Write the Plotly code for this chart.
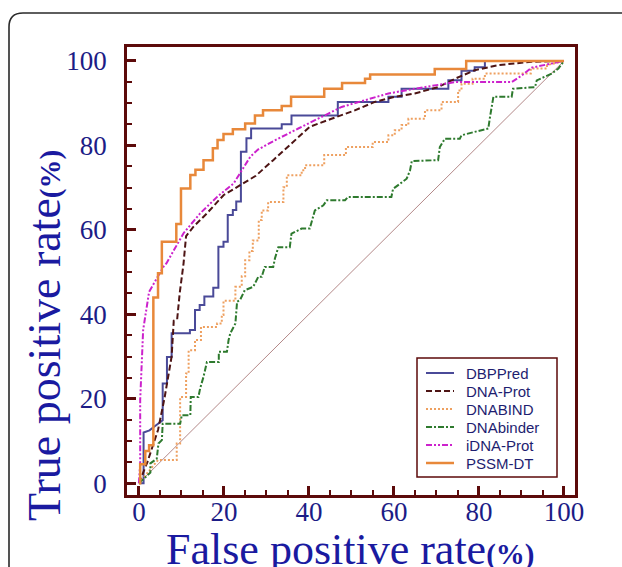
import plotly.graph_objects as go

# ---------------- data (FPR %, TPR %) ----------------
dbppred_fpr = [0, 1.1, 1.1, 2.5, 3.5, 4.5, 5.6, 5.6, 6.6, 6.6, 7.7, 7.7, 12, 12, 13.2, 13.2, 14.3, 14.3,
               15.4, 15.4, 17.5, 17.5, 18.7, 18.7, 19.9, 19.9, 20.9, 20.9, 22.1, 22.1, 22.9, 22.9, 24, 24,
               25.3, 25.3, 26.4, 26.4, 33.6, 33.6, 35.9, 35.9, 46.8, 46.8, 58.7, 58.7, 61.8, 61.8, 72.8,
               72.8, 75.9, 75.9, 79, 79, 81.4, 81.4, 100]
dbppred_tpr = [0, 0, 12, 12.5, 13.3, 14, 14.9, 23.6, 23.6, 29.9, 29.9, 35.5, 35.5, 36.3, 36.3, 41, 41, 42.2,
               42.2, 44.2, 44.2, 46.3, 46.3, 56, 56, 57.2, 57.2, 63.5, 63.5, 64.7, 64.7, 66.7, 66.7, 78.5,
               78.5, 81.7, 81.7, 84, 84, 85, 85, 87.1, 87.1, 90.3, 90.3, 91.5, 91.5, 93.4, 93.4,
               95.4, 95.4, 97.7, 97.7, 98.5, 98.5, 100, 100]

dnaprot_fpr = [0, 2, 4.5, 6, 7.7, 8.2, 9, 9.6, 10.5, 11.1, 12.9, 16, 19.9, 23.8, 27.5, 31.6, 35.9, 40.2,
               45.3, 50.8, 55.5, 60.2, 64.9, 70.4, 74.4, 79, 84.5, 92.4, 100]
dnaprot_tpr = [0, 5, 12.6, 20, 30, 38.5, 38.8, 45, 52, 58.5, 60.8, 63.9, 68.2, 70.6, 72.8, 76.5, 80.4, 84.4,
               86.3, 88.3, 90.3, 91.5, 92.3, 93.8, 95.8, 97.8, 99, 99.8, 100]

dnabind_fpr = [0, 1.9, 3.8, 4.5, 8.9, 8.9, 9.7, 9.7, 11.1, 11.1, 11.7, 11.7, 13.2, 13.2, 14.6, 14.6, 18.4,
               18.4, 19.5, 19.5, 19.9, 19.9, 22.7, 22.7, 24.2, 24.2, 25, 25, 26, 26, 26.8, 26.8, 28.2, 28.2,
               28.9, 28.9, 30.4, 30.4, 34, 34, 34.8, 34.8, 38.3, 38.3, 39.1, 39.1, 43.6, 43.6, 48.7, 48.7,
               55, 55, 58.7, 58.7, 60.2, 60.2, 61.8, 61.8, 63.4, 63.4, 67.3, 67.3, 71.2, 71.2, 75.1, 75.1,
               75.9, 75.9, 78.5, 78.5, 81.4, 81.4, 92.2, 92.2, 96, 96, 100]
dnabind_tpr = [0, 2.3, 4.7, 5.5, 5.5, 9.4, 9.4, 20.4, 20.4, 26, 26, 31.5, 31.5, 33.9, 33.9, 37, 37,
               37.8, 37.8, 39.8, 39.8, 43.2, 43.2, 46.5, 46.5, 49, 49, 52.8, 52.8, 55, 55, 57.5, 57.5, 62.3,
               62.3, 64.6, 64.6, 66.6, 66.6, 70.1, 70.1, 72.9, 72.9, 74.1, 74.1, 75.3, 75.3, 77.7, 77.7, 79.6,
               79.6, 80.8, 80.8, 82.4, 82.4, 83.6, 83.6, 84.8, 84.8, 86.3, 86.3, 88.3, 88.3, 90.3, 90.3, 93,
               93, 94.6, 94.6, 95.8, 95.8, 97, 97, 98.2, 98.2, 99, 100]

dnabinder_fpr = [0, 1.1, 2.7, 2.7, 4.2, 4.6, 5.4, 5.6, 9.7, 10.1, 12.1, 12.2, 14, 14.4, 15.2, 16, 18.8,
                 18.8, 20.7, 21.1, 21.5, 22.7, 23.1, 23.8, 24.9, 26.9, 28.1, 28.9, 29.6, 31.6, 32, 32.8,
                 35.5, 35.9, 38.3, 40.2, 41.4, 43.4, 44.2, 48.5, 49.2, 59.4, 59.8, 63, 63.8, 64.2, 70.4,
                 70.8, 72, 75.5, 75.9, 79, 82.2, 82.6, 83.4, 87.7, 88, 93.2, 93.6, 97.1, 98.7, 100]
dnabinder_tpr = [0, 1.1, 2.5, 4.7, 5.8, 9.4, 10.2, 14.1, 14.1, 16.1, 16.1, 20.4, 20.4, 22.4, 25.2, 28.7, 28.7,
                 31.1, 31.1, 33.9, 35.5, 37.8, 43, 43.4, 45.7, 46.5, 48.9, 48.9, 51.2, 51.2, 53.2, 55.9,
                 55.9, 59.1, 60.3, 60.3, 64.6, 65.8, 67, 67, 67.8, 67.8, 69.7, 72.1, 74.1, 76.3, 76.5,
                 79.6, 81.6, 81.6, 82.4, 83.2, 84, 86.7, 91.5, 91.5, 93.4, 93.8, 95.4, 97, 98.2, 100]

idnaprot_fpr = [0, 0.3, 0.3, 1, 2.4, 3.5, 4.5, 5.8, 6.5, 8.2, 10.5, 14.4, 18.4, 22.3, 24.2, 26.2, 28,
                32, 37.5, 43, 47.7, 53.2, 58.7, 64.9, 70, 74.4, 87.7, 90, 92.4, 100]
idnaprot_tpr = [0, 4.7, 19.7, 36.3, 45.3, 47.3, 49.3, 51.3, 52.1, 55.2, 59.2, 63.9, 67.8, 71, 74.2, 77.3, 79,
                81.2, 84, 86.7, 89.1, 90.7, 92.3, 93.4, 94.2, 95, 95, 96.5, 98.4, 100]

pssmdt_fpr = [0, 0.3, 0.3, 1.5, 1.5, 2.4, 2.4, 3.4, 3.4, 4.5, 4.5, 5.4, 5.4, 8.8, 8.8, 9.9, 9.9, 12.1, 12.1,
              13.3, 13.3, 15.2, 15.2, 17.4, 17.4, 18.5, 18.5, 19.9, 19.9, 22.1, 22.1, 25, 25, 27.3, 27.3,
              29.2, 29.2, 33.6, 33.6, 35.8, 35.8, 43.6, 43.6, 47.8, 47.8, 53.2, 53.2, 54.4, 54.4, 69.6,
              69.6, 77, 77, 100]
pssmdt_tpr = [0, 0, 4.5, 4.5, 7.6, 7.6, 9, 9, 44, 44, 49.7, 49.7, 57.2, 57.2, 61.4, 61.4, 69.8, 69.8, 73,
              73, 74.2, 74.2, 76.5, 76.5, 79.3, 79.3, 81.3, 81.3, 82.7, 82.7, 83.8, 83.8, 85.2, 85.2, 87.1,
              87.1, 88.3, 88.3, 89.3, 89.3, 91.5, 91.5, 93.4, 93.4, 94.8, 94.8, 95.8, 95.8, 96.8, 96.8,
              98.1, 98.1, 100, 100]

diag_x = [0, 100]
diag_y = [0, 100]

x_ticks = [0, 20, 40, 60, 80, 100]
y_ticks = [0, 20, 40, 60, 80, 100]

# ---------------- figure ----------------
W, H = 622, 567
L, R, T, B = 127, 47, 47, 72
PW, PH = W - L - R, H - T - B

def px2paper(px, py):
    return (px - L) / PW, (H - B - py) / PH

fig = go.Figure()

fig.add_trace(go.Scatter(x=diag_x, y=diag_y, mode="lines", showlegend=False,
                         line=dict(color="#a06a6a", width=0.8), hoverinfo="skip"))

series = [
    ("DBPPred", dbppred_fpr, dbppred_tpr, dict(color="#4a4a98", width=2, dash="solid")),
    ("DNA-Prot", dnaprot_fpr, dnaprot_tpr, dict(color="#4d1414", width=2, dash="6px,3px")),
    ("DNABIND", dnabind_fpr, dnabind_tpr, dict(color="#eea060", width=2, dash="2px,2px")),
    ("DNAbinder", dnabinder_fpr, dnabinder_tpr, dict(color="#2e7a2e", width=2, dash="6px,2px,2px,2px")),
    ("iDNA-Prot", idnaprot_fpr, idnaprot_tpr, dict(color="#cc22cc", width=2, dash="6px,2px,2px,2px,2px,2px")),
    ("PSSM-DT", pssmdt_fpr, pssmdt_tpr, dict(color="#e8883a", width=2.5, dash="solid")),
]
for name, xs, ys, ln in series:
    fig.add_trace(go.Scatter(x=xs, y=ys, mode="lines", name=name, line=ln, showlegend=False))

frame_col = "#5c0a0a"
tick_font = dict(family="Liberation Serif, Times New Roman, serif", size=27, color="#1c1c86")
axis_common = dict(
    showgrid=False, zeroline=False, showline=True, linecolor=frame_col, linewidth=2.5, mirror=True,
    ticks="inside", ticklen=9, tickwidth=2.5, tickcolor=frame_col, tickfont=tick_font,
    minor=dict(dtick=5, ticks="inside", ticklen=5, tickwidth=1.5, tickcolor=frame_col),
)
fig.update_xaxes(range=[-2.8, 102.6], tickvals=x_ticks, ticktext=[str(v) for v in x_ticks],
                 ticklabelstandoff=-9, **axis_common)
fig.update_yaxes(range=[-2.8, 103.3], tickvals=y_ticks, ticktext=[str(v) for v in y_ticks],
                 ticklabelstandoff=12, **axis_common)

serif = "Liberation Serif, Times New Roman, serif"
xt_font = dict(family=serif, size=44, color="#1a1aa0")
yt_font = dict(family=serif, size=46, color="#1a1aa0")
ax, ay = px2paper(350, 549)
fig.add_annotation(text="False positive rate<b><span style='font-size:29px'>(%)</span></b>",
                   xref="paper", yref="paper", x=ax, y=ay,
                   xanchor="center", yanchor="middle", showarrow=False, font=xt_font)
bx, by = px2paper(44, 336)
fig.add_annotation(text="True positive rate<b><span style='font-size:29px'>(%)</span></b>",
                   xref="paper", yref="paper", x=bx, y=by,
                   xanchor="center", yanchor="middle", textangle=-90, showarrow=False, font=yt_font)

# card border (rounded rectangle, partially outside the image)
x0, y0 = px2paper(9, 13)
x1, y1 = px2paper(640, 600)
rx = 14 / PW
ry = 14 / PH
path = (f"M {x0},{y1} L {x0},{y0 - ry} Q {x0},{y0} {x0 + rx},{y0} L {x1},{y0}")
fig.add_shape(type="path", xref="paper", yref="paper", path=path,
              line=dict(color="#2a2a2a", width=1.6))

# legend box drawn to match the original layout
bx0, by0 = px2paper(417, 358)
bx1, by1 = px2paper(557, 477)
fig.add_shape(type="rect", xref="paper", yref="paper", x0=bx0, y0=by1, x1=bx1, y1=by0,
              line=dict(color=frame_col, width=1.5), fillcolor="white", layer="above")
leg_font = dict(family="Liberation Sans, Arial, sans-serif", size=15, color="#1e1e70")
for i, (name, _, _, ln) in enumerate(series):
    cy = 373 + 18 * i
    sx0, sy = px2paper(426, cy)
    sx1, _ = px2paper(454, cy)
    fig.add_shape(type="line", xref="paper", yref="paper", x0=sx0, x1=sx1, y0=sy, y1=sy,
                  line=dict(color=ln["color"], width=ln["width"], dash=ln["dash"]), layer="above")
    tx, _ = px2paper(464, cy)
    fig.add_annotation(text=name, xref="paper", yref="paper", x=tx, y=sy, xanchor="left",
                       yanchor="middle", showarrow=False, font=leg_font)

fig.update_layout(
    width=W, height=H, margin=dict(l=L, r=R, t=T, b=B),
    paper_bgcolor="white", plot_bgcolor="white", showlegend=False,
)

fig.write_html("out.html", post_script="document.body.style.margin='0px';",
               config={"displayModeBar": False})
